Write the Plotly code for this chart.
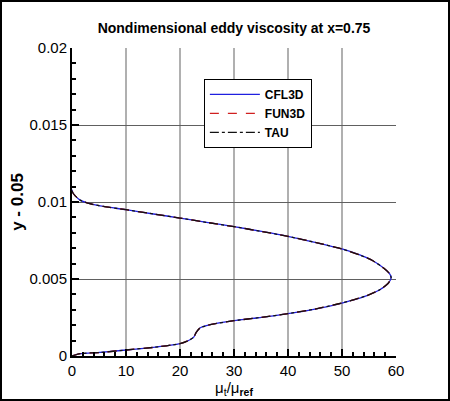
import plotly.graph_objects as go

# eddy viscosity profile (mu_t/mu_ref vs y - 0.05)
mut = [0.0, 1.5, 5.2, 10.0, 15.1, 20.0, 21.5, 22.5, 23.0, 23.7, 25.6, 30.0, 35.1, 40.0,
       45.0, 50.0, 54.6, 57.0, 58.6, 59.1, 58.8, 57.7, 55.8, 53.3, 50.0, 45.0, 40.0,
       35.1, 30.0, 24.9, 20.0, 15.1, 10.0, 5.8, 3.3, 1.5, 0.6, 0.15, 0.0]
yy = [0.0, 0.00015, 0.00023, 0.00039, 0.00056, 0.0008, 0.00099, 0.00121, 0.00153,
      0.00182, 0.00203, 0.00229, 0.00251, 0.00275, 0.00305, 0.00344, 0.00392, 0.0043,
      0.00474, 0.0051, 0.00535, 0.00571, 0.00617, 0.00656, 0.00695, 0.00738, 0.00777,
      0.00809, 0.0084, 0.00868, 0.00896, 0.00922, 0.0095, 0.00971, 0.00989, 0.01012,
      0.0104, 0.0106, 0.0108]

codes = ["CFL3D", "FUN3D", "TAU"]
styles = [dict(color="#2020e0", width=1.3, dash="solid"),
          dict(color="#d02020", width=1.3, dash="dash"),
          dict(color="#111111", width=1.3, dash="dashdot")]

fig = go.Figure()
for name, st in zip(codes, styles):
    fig.add_trace(go.Scatter(x=mut, y=yy, mode="lines", name=name, line=st,
                             line_shape="spline", line_smoothing=0.6))

font = "Liberation Sans, Arial, sans-serif"
axis_common = dict(showline=True, linecolor="black", linewidth=2, mirror=False, automargin=False,
                   ticks="inside", ticklen=7, tickcolor="black", tickwidth=1.5,
                   zeroline=False, tickfont=dict(family=font, size=15, color="black"))

fig.update_layout(
    width=450, height=401,
    margin=dict(l=72, r=54, t=48, b=45, autoexpand=False),
    paper_bgcolor="white", plot_bgcolor="white",
    title=dict(text="<b>Nondimensional eddy viscosity at x=0.75</b>", x=234 / 450, xanchor="center",
               y=0.93, yanchor="middle", font=dict(family=font, size=14, color="black")),
    xaxis=dict(range=[0, 60], dtick=10, showgrid=True, gridcolor="#b0b0b0", gridwidth=1.5,
               minor=dict(dtick=2, ticks="inside", ticklen=4, tickcolor="black", showgrid=False),
               title=dict(text="μ<sub>t</sub>/μ<sub><b>ref</b></sub>", standoff=4,
                          font=dict(family=font, size=15, color="black")),
               **axis_common),
    yaxis=dict(range=[0, 0.02], dtick=0.005, showgrid=True, gridcolor="#606060", gridwidth=1,
               minor=dict(dtick=0.001, ticks="inside", ticklen=4, tickcolor="black", showgrid=False),
               title=dict(text="<b>y - 0.05</b>", standoff=2,
                          font=dict(family=font, size=17, color="black")),
               **axis_common),
    legend=dict(x=0.407, y=0.9, xanchor="left", yanchor="top", bgcolor="white",
                bordercolor="black", borderwidth=1, itemwidth=50, tracegroupgap=0,
                font=dict(family=font, size=12, color="black", weight="bold")),
    showlegend=True,
)

# outer frame around the whole picture
fig.add_shape(type="rect", xref="paper", yref="paper",
              x0=-71 / 324, x1=1 + 53 / 324,
              y0=-44 / 308, y1=1 + 47 / 308,
              line=dict(color="black", width=2), layer="above")

fig.write_html("out.html", config={"displayModeBar": False},
               post_script="document.body.style.margin='0px';")
